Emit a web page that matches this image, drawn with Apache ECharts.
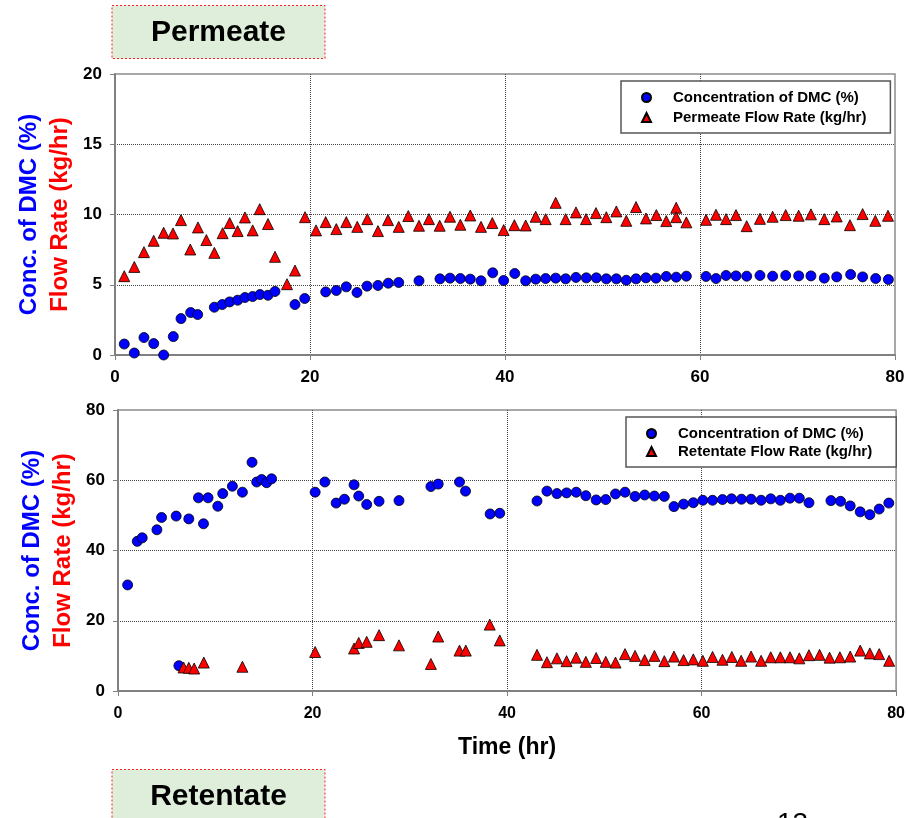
<!DOCTYPE html>
<html>
<head>
<meta charset="utf-8">
<script src="https://cdn.jsdelivr.net/npm/echarts@6/dist/echarts.min.js"></script>
<style>
html,body{margin:0;padding:0;background:#fff;}
#chart{width:908px;height:818px;}
</style>
</head>
<body>
<div id="chart"></div>
<script>
// ---------- Data ----------
// Permeate: concentration of DMC (%)
const permConcTime = [0.95,1.98,2.97,3.97,4.99,5.98,6.77,7.76,8.48,10.19,11.0,11.76,12.58,13.33,14.12,14.87,15.69,16.41,18.46,19.46,21.61,22.7,23.72,24.82,25.85,26.97,28.03,29.1,31.18,33.33,34.36,35.42,36.44,37.54,38.74,39.86,41.0,42.12,43.15,44.17,45.2,46.22,47.28,48.34,49.37,50.39,51.42,52.44,53.44,54.46,55.49,56.54,57.56,58.6,60.62,61.64,62.67,63.69,64.79,66.15,67.45,68.79,70.12,71.38,72.75,74.02,75.45,76.68,78.02,79.32];
const permConc = [0.78,0.14,1.24,0.81,0.0,1.31,2.59,3.02,2.88,3.40,3.59,3.78,3.90,4.09,4.16,4.30,4.25,4.52,3.59,4.02,4.49,4.59,4.85,4.45,4.90,4.95,5.11,5.16,5.28,5.42,5.47,5.44,5.40,5.28,5.85,5.30,5.80,5.28,5.40,5.44,5.47,5.42,5.52,5.49,5.49,5.42,5.42,5.32,5.42,5.49,5.47,5.59,5.54,5.61,5.59,5.44,5.66,5.63,5.61,5.66,5.61,5.66,5.63,5.63,5.47,5.56,5.73,5.56,5.44,5.37];
// Permeate: flow rate (kg/hr)
const permFlowTime = [0.95,1.98,2.97,3.97,4.99,5.95,6.77,7.72,8.51,9.37,10.19,11.04,11.76,12.58,13.33,14.12,14.84,15.69,16.41,17.64,18.46,19.49,20.62,21.61,22.7,23.72,24.85,25.88,26.97,28.0,29.1,30.08,31.18,32.2,33.3,34.36,35.42,36.44,37.54,38.7,39.86,40.96,42.12,43.15,44.17,45.2,46.22,47.28,48.31,49.33,50.39,51.42,52.44,53.44,54.46,55.52,56.54,57.56,57.56,58.6,60.62,61.64,62.67,63.69,64.79,66.15,67.45,68.79,70.12,71.38,72.75,74.02,75.38,76.68,77.98,79.28];
const permFlow = [5.61,6.27,7.32,8.13,8.70,8.65,9.60,7.51,9.08,8.18,7.27,8.67,9.39,8.82,9.79,8.87,10.38,9.32,6.99,5.04,6.01,9.81,8.87,9.46,8.96,9.46,9.12,9.67,8.82,9.60,9.12,9.89,9.20,9.67,9.20,9.84,9.27,9.93,9.12,9.39,8.89,9.24,9.22,9.84,9.67,10.83,9.67,10.15,9.67,10.10,9.81,10.22,9.55,10.53,9.72,9.96,9.53,10.48,9.81,9.44,9.62,9.98,9.67,9.96,9.17,9.69,9.84,9.96,9.91,10.01,9.67,9.86,9.24,10.03,9.55,9.91];
// Retentate: concentration of DMC (%)
const retConcTime = [0.99,1.98,2.49,4.0,4.48,5.98,6.26,7.28,8.27,8.79,9.26,10.26,10.77,11.76,12.79,13.78,14.26,14.77,15.28,15.79,20.27,21.27,22.43,23.28,24.27,24.75,25.57,26.84,28.89,32.17,32.92,35.11,35.73,38.26,39.25,43.08,44.1,45.13,46.12,47.11,48.1,49.16,50.15,51.15,52.13,53.16,54.15,55.15,56.17,57.16,58.15,59.15,60.13,61.13,62.15,63.08,64.1,65.09,66.12,67.11,68.1,69.09,70.05,71.04,73.3,74.29,75.28,76.31,77.3,78.26,79.25];
const retConc = [30.2,42.6,43.6,45.9,49.4,49.8,7.2,49.0,55.0,47.6,55.0,52.6,56.2,58.3,56.6,65.1,59.5,60.2,59.3,60.4,56.6,59.5,53.5,54.6,58.7,55.5,53.1,54.0,54.2,58.2,58.9,59.5,56.9,50.4,50.6,54.1,56.9,56.2,56.4,56.6,55.6,54.4,54.5,56.1,56.6,55.4,55.8,55.5,55.4,52.5,53.2,53.6,54.3,54.3,54.5,54.7,54.6,54.6,54.3,54.7,54.3,54.9,54.9,53.6,54.2,54.0,52.7,51.0,50.2,51.8,53.5];
// Retentate: flow rate (kg/hr)
const retFlowTime = [6.74,7.28,7.83,8.82,12.79,20.27,24.27,24.75,25.57,26.84,28.89,32.17,32.92,35.11,35.76,38.22,39.25,43.08,44.1,45.13,46.12,47.11,48.1,49.16,50.15,51.15,52.13,53.16,54.15,55.15,56.17,57.16,58.15,59.15,60.13,61.13,62.15,63.11,64.07,65.09,66.12,67.11,68.1,69.09,70.05,71.04,72.13,73.16,74.22,75.28,76.31,77.3,78.26,79.28];
const retFlow = [6.7,6.6,6.4,8.1,6.9,11.1,12.1,13.7,14.0,15.9,13.0,7.7,15.5,11.5,11.5,18.9,14.4,10.3,8.2,9.3,8.5,9.5,8.3,9.4,8.3,8.1,10.5,10.0,8.8,10.0,8.5,9.8,8.8,9.0,8.6,9.7,8.9,9.7,8.6,9.8,8.6,9.6,9.6,9.6,9.3,10.2,10.3,9.5,9.6,9.8,11.5,10.7,10.5,8.6];

// Axis settings / labels
const xTicks = {min: 0, max: 80, interval: 20};
const permY = {min: 0, max: 20, interval: 5};
const retY = {min: 0, max: 80, interval: 20};
const nameConc = 'Concentration of DMC (%)';
const namePermFlow = 'Permeate Flow Rate (kg/hr)';
const nameRetFlow = 'Retentate Flow Rate (kg/hr)';
const yTitleConc = 'Conc. of DMC (%)';
const yTitleFlow = 'Flow Rate (kg/hr)';
const xTitle = 'Time (hr)';

// ---------- Chart ----------
const FONT = '"Liberation Sans", Arial, sans-serif';
const zip = (xs, ys) => xs.map((x, i) => [x, ys[i]]);

function xAxisCfg(gridIndex, margin, fs, name) {
  return {
    type: 'value', gridIndex, min: xTicks.min, max: xTicks.max, interval: xTicks.interval,
    name: name || '', nameLocation: 'middle', nameGap: 45,
    nameTextStyle: {fontFamily: FONT, fontWeight: 'bold', fontSize: 23, color: '#000'},
    axisLine: {show: true, lineStyle: {color: '#808080', width: 2}},
    axisTick: {show: true, inside: false, length: 5, lineStyle: {color: '#808080', width: 1}},
    axisLabel: {margin, fontFamily: FONT, fontWeight: 'bold', fontSize: fs, color: '#000'},
    splitLine: {show: true, showMinLine: false, showMaxLine: false, lineStyle: {color: '#444', type: 'dotted', width: 1}}
  };
}
function yAxisCfg(gridIndex, cfg, margin) {
  return {
    type: 'value', gridIndex, min: cfg.min, max: cfg.max, interval: cfg.interval,
    name: '{b|' + yTitleConc + '}\n{r|' + yTitleFlow + '}',
    nameLocation: 'middle', nameRotate: 90, nameGap: 37,
    nameTextStyle: {
      fontFamily: FONT, fontWeight: 'bold', fontSize: 24,
      rich: {
        b: {color: '#0000FF', fontFamily: FONT, fontWeight: 'bold', fontSize: 24, lineHeight: 31},
        r: {color: '#FF0000', fontFamily: FONT, fontWeight: 'bold', fontSize: 24, lineHeight: 31}
      }
    },
    axisLine: {show: true, lineStyle: {color: '#808080', width: 2}},
    axisTick: {show: true, inside: false, length: 5, lineStyle: {color: '#808080', width: 1}},
    axisLabel: {margin, fontFamily: FONT, fontWeight: 'bold', fontSize: 17, color: '#000'},
    splitLine: {show: true, showMinLine: false, showMaxLine: false, lineStyle: {color: '#444', type: 'dotted', width: 1}}
  };
}
function legendCfg(left, top, names, gap) {
  return {
    orient: 'vertical', left, top, data: names,
    padding: [9, 24, 8, 20], itemGap: gap, itemWidth: 9, itemHeight: 9,
    backgroundColor: '#fff', borderColor: '#555', borderWidth: 1.5,
    selectedMode: false,
    formatter: n => '{s|}' + n,
    textStyle: {fontFamily: FONT, fontWeight: 'bold', fontSize: 15, color: '#000', rich: {s: {width: 17}}}
  };
}
const circleStyle = {color: '#0000FF', borderColor: '#000', borderWidth: 0.8, opacity: 1};
const triStyle = {color: '#FF0000', borderColor: '#000', borderWidth: 0.8, opacity: 1};

const chart = echarts.init(document.getElementById('chart'), null, {renderer: 'canvas'});
chart.setOption({
  backgroundColor: '#fff',
  animation: false,
  grid: [
    {left: 115, top: 74, width: 780, height: 281, show: true, borderColor: '#8c8c8c', borderWidth: 1.5, backgroundColor: 'transparent'},
    {left: 118, top: 410, width: 780, height: 281, show: true, borderColor: '#8c8c8c', borderWidth: 1.5, backgroundColor: 'transparent'}
  ],
  xAxis: [xAxisCfg(0, 14, 17), xAxisCfg(1, 15, 16, xTitle)],
  yAxis: [yAxisCfg(0, permY, 13), yAxisCfg(1, retY, 13)],
  legend: [
    legendCfg(621, 81, [nameConc, namePermFlow], 5),
    legendCfg(626, 417, [nameConc, nameRetFlow], 3)
  ],
  graphic: [
    {type: 'rect', shape: {x: 112, y: 5.5, width: 213, height: 53}, style: {fill: '#DFEEDB', stroke: '#FF2020', lineWidth: 1, lineDash: [2, 2]}},
    {type: 'text', x: 218.5, y: 32.5, style: {text: 'Permeate', font: 'bold 30px ' + FONT, fill: '#000', align: 'center', verticalAlign: 'middle'}},
    {type: 'rect', shape: {x: 112, y: 769.5, width: 213, height: 53}, style: {fill: '#DFEEDB', stroke: '#FF2020', lineWidth: 1, lineDash: [2, 2]}},
    {type: 'text', x: 218.5, y: 797, style: {text: 'Retentate', font: 'bold 30px ' + FONT, fill: '#000', align: 'center', verticalAlign: 'middle'}},
    {type: 'text', x: 777, y: 810, style: {text: '13', font: '28px ' + FONT, fill: '#000', align: 'left', verticalAlign: 'top'}}
  ],
  series: [
    {name: nameConc, type: 'scatter', xAxisIndex: 0, yAxisIndex: 0, symbol: 'circle', symbolSize: 10, itemStyle: circleStyle, data: zip(permConcTime, permConc)},
    {name: namePermFlow, type: 'scatter', xAxisIndex: 0, yAxisIndex: 0, symbol: 'triangle', symbolSize: 11, itemStyle: triStyle, data: zip(permFlowTime, permFlow)},
    {name: nameConc, type: 'scatter', xAxisIndex: 1, yAxisIndex: 1, symbol: 'circle', symbolSize: 10, itemStyle: circleStyle, data: zip(retConcTime, retConc)},
    {name: nameRetFlow, type: 'scatter', xAxisIndex: 1, yAxisIndex: 1, symbol: 'triangle', symbolSize: 11, itemStyle: triStyle, data: zip(retFlowTime, retFlow)}
  ]
});
</script>
</body>
</html>
